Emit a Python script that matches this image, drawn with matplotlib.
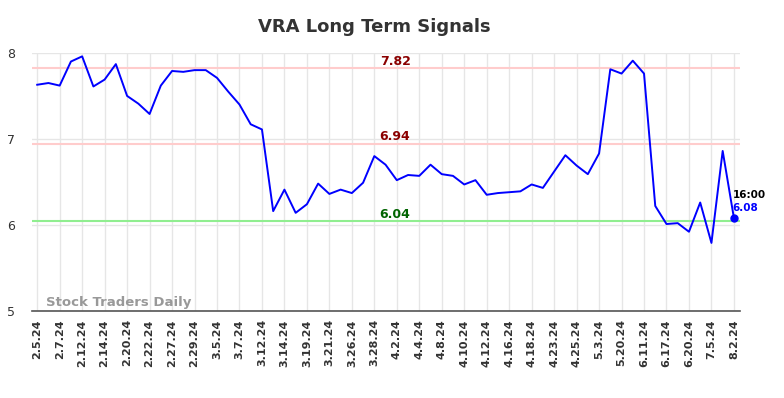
import numpy as np
import matplotlib.pyplot as plt

# x tick labels (one every 2 data points)
tick_labels = ["2.5.24", "2.7.24", "2.12.24", "2.14.24", "2.20.24", "2.22.24", "2.27.24", "2.29.24",
               "3.5.24", "3.7.24", "3.12.24", "3.14.24", "3.19.24", "3.21.24", "3.26.24", "3.28.24",
               "4.2.24", "4.4.24", "4.8.24", "4.10.24", "4.12.24", "4.16.24", "4.18.24", "4.23.24",
               "4.25.24", "5.3.24", "5.20.24", "6.11.24", "6.17.24", "6.20.24", "7.5.24", "8.2.24"]

prices = [7.63, 7.65, 7.62, 7.90, 7.96, 7.61, 7.69, 7.87, 7.50, 7.41,
          7.29, 7.62, 7.79, 7.78, 7.80, 7.80, 7.71, 7.55, 7.40, 7.17,
          7.11, 6.16, 6.41, 6.14, 6.24, 6.48, 6.36, 6.41, 6.37, 6.49,
          6.80, 6.70, 6.52, 6.58, 6.57, 6.70, 6.59, 6.57, 6.47, 6.52,
          6.35, 6.37, 6.38, 6.39, 6.47, 6.43, 6.62, 6.81, 6.69, 6.59,
          6.83, 7.81, 7.76, 7.91, 7.76, 6.22, 6.01, 6.02, 5.92, 6.26,
          5.79, 6.86, 6.08]

upper_lines = [7.82, 6.94]
lower_line = 6.04
last_time = "16:00"

fig = plt.figure(figsize=(7.84, 3.98), dpi=100)
ax = fig.add_axes([0.041, 0.219, 0.903, 0.648])

x = np.arange(len(prices))
tick_pos = np.arange(0, len(prices), 2)

ax.set_xlim(-0.45, len(prices) - 0.45)
ax.set_ylim(5, 8)
ax.set_yticks([5, 6, 7, 8])
ax.set_xticks(tick_pos)
ax.set_xticklabels(tick_labels, rotation=90, fontsize=8, fontweight="bold", color="#333333")
ax.tick_params(axis="y", labelsize=9, colors="#333333", length=0, pad=12)
ax.tick_params(axis="x", length=0, pad=6)
ax.grid(True, color="#e6e6e6", linewidth=1)
ax.set_axisbelow(True)
for s in ["top", "right", "left"]:
    ax.spines[s].set_visible(False)
ax.spines["bottom"].set_color("#555555")
ax.spines["bottom"].set_linewidth(1.2)

mid = 31.85
for v in upper_lines:
    ax.axhline(v, color="#ffcccc", linewidth=1.5, zorder=1)
    ax.text(mid, v + 0.085, f"{v:.2f}", color="#8b0000", fontsize=9, fontweight="bold",
            ha="center", va="center")
ax.axhline(lower_line, color="#90ee90", linewidth=1.5, zorder=1)
ax.text(mid, lower_line + 0.085, f"{lower_line:.2f}", color="#006400", fontsize=9, fontweight="bold",
        ha="center", va="center")

ax.plot(x, prices, color="blue", linewidth=1.4, zorder=3)
ax.plot(x[-1], prices[-1], "o", color="blue", markersize=5, zorder=4)
ax.text(x[-1] - 0.1, 6.35, last_time, fontsize=7.5, fontweight="bold", color="black",
        ha="left", va="center")
ax.text(x[-1] - 0.1, 6.20, f"{prices[-1]:.2f}", fontsize=7.5, fontweight="bold",
        color="blue", ha="left", va="center")

ax.text(0.8, 5.02, "Stock Traders Daily", fontsize=9.5, fontweight="bold", color="#999999",
        ha="left", va="bottom")

fig.suptitle("VRA Long Term Signals", x=0.477, y=0.955, fontsize=13, fontweight="bold", color="#333333")

fig.savefig("out.png", dpi=100)
